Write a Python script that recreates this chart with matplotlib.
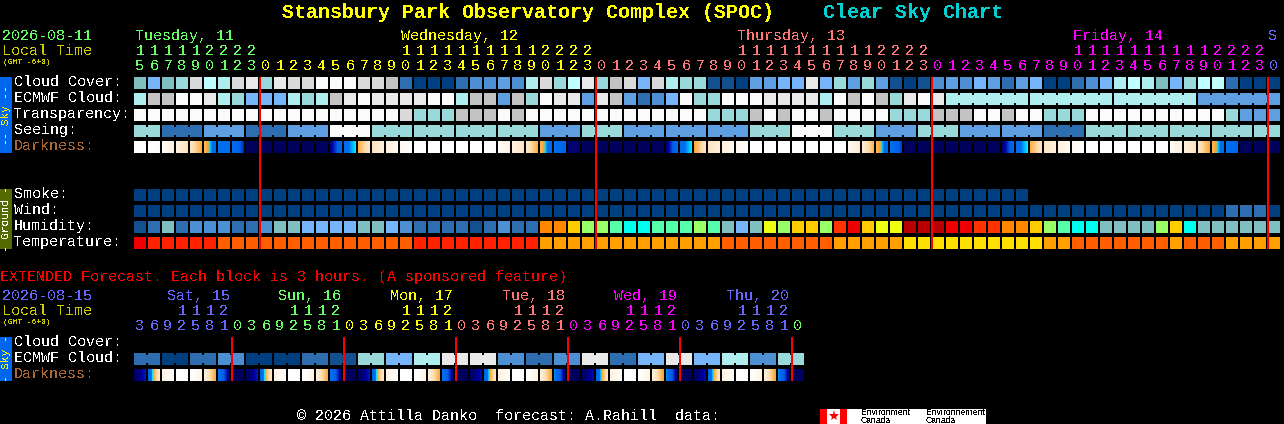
import numpy as np
import matplotlib
matplotlib.use("Agg")
import matplotlib.pyplot as plt
from matplotlib.colors import LinearSegmentedColormap

# block colours, clear (a) to overcast (n), then humidity/temperature colours
PALETTE = {
    "a": "#003f7f", "b": "#13508f", "c": "#2c6eaf", "d": "#4c8fd2", "e": "#5e9fe2",
    "f": "#77b5fa", "g": "#7fbfbf", "h": "#99d9d9", "i": "#aeeeee", "j": "#bfffff",
    "k": "#e9e9e9", "l": "#fbfbfb", "m": "#dadada", "n": "#c3c3c3",
    "O": "#ff8800", "Y": "#ffcc00", "G": "#99ff66", "M": "#55ffaa", "C": "#00ffee",
    "L": "#eeff11", "R": "#ff3300", "r": "#ee0000", "D": "#b80000",
    "T": "#ff2200", "U": "#ff5f00", "V": "#ffa000", "W": "#ffe000",
}

cloud_cover = "gfghmjimkhkmmlllmmnca" "aacddedimhjkhnmfmihhbbaeeffkfhe" "hebabdedfecefaacdfijigfhjjcaaa"
ecmwf_cloud = "innllkihfffihinklkkkk" "llinnenhlkkeknecdflhhlllkkkkiln" "lnhklk" + "i" * 18 + "e" * 6
transparency = ("l" * 19 + "mhhh" + "nnn" + "lnl" + "l" * 12 + "hhh" + "nlnlln" + "llll" + "hhh" + "nnn"
                + "ll" + "n" + "ll" + "hhh" + "l" * 10 + "h" + "eee")
seeing_levels = "hcecelhhhhehee" "ehlheheechhhhh"
seeing_spans = [2] + [3] * 26 + [2]
ecmwf_spans = [1] * 58 + [6, 6, 6, 6]
smoke = "a" * 64
wind = "a" * 78 + "ccca"
humidity = "bcgcdddccdggffffggfdc" "cccbcdccOOYGGMCCMMMGMgfgLGYYGR" "rYLLDDDrrRROOYGMCCggggGYCgggggg"
temperature = "r" + "T" * 5 + "U" * 14 + "T" * 9 + "V" * 13 + "U" * 8 + "V" * 5 + "W" * 10 + "VV" + "U" * 7 + "V" + "UUU" + "VVVV"

# darkness: value at the left and right edge of each block, 0 night to 1 daylight
darkness_start = [
    1, 1, .99, .90, .78, .60, .45, .40, .02, .02, .02, .02, .02, .02, .08, .42, .58, .78, .88, .95, 1,
    1, 1, 1, 1, 1, .98, .90, .80, .60, .45, .06, .02, .02, .02, .02, .02, .02, .06, .42, .56, .78, .88, .95,
    1, 1, 1, 1, 1, 1, 1, .95, .85, .60, .44, .02, .02, .02, .02, .02, .02, .02, .05, .42, .58, .80, .88, .95,
    1, 1, 1, 1, 1, 1, .97, .88, .78, .60, .44, .02, .02, .02,
]
darkness_end = [
    1, .98, .88, .76, .57, .38, .42, .18, .02, .02, .02, .02, .02, .02, .35, .50, .80, .88, .95, .99, 1,
    1, 1, 1, 1, .98, .90, .78, .58, .36, .30, .04, .02, .02, .02, .02, .02, .02, .38, .50, .78, .87, .95, .99,
    1, 1, 1, 1, 1, 1, 1, .85, .60, .38, .20, .02, .02, .02, .02, .02, .02, .02, .35, .50, .78, .88, .95, 1,
    1, 1, 1, 1, 1, 1, .88, .76, .56, .38, .32, .02, .02, .02,
]

main_hours = list(range(15, 24)) + list(range(24)) * 3 + [0]
ext_hours = [3, 6, 9, 12, 15, 18, 21] + [0, 3, 6, 9, 12, 15, 18, 21] * 5 + [0]

ext_ecmwf = "cacdaacbhfikkdcdkcfkfidh"
ext_dark_start = [
    .02, .32, .90, 1, 1, .88, .44, .02,
    .02, .32, .90, 1, 1, .88, .44, .02,
    .02, .32, .90, 1, 1, .88, .44, .02,
    .02, .30, .88, 1, 1, .88, .46, .02,
    .02, .30, .88, 1, 1, .88, .46, .02,
    .02, .30, .88, 1, 1, .88, .46, .02,
]
ext_dark_end = [
    .16, .82, .99, 1, .90, .56, .05, .02,
    .16, .82, .99, 1, .90, .56, .05, .02,
    .16, .82, .99, 1, .90, .56, .05, .02,
    .14, .80, .99, 1, .90, .54, .05, .02,
    .14, .80, .99, 1, .90, .54, .05, .02,
    .14, .80, .99, 1, .90, .54, .05, .02,
]

GREEN, YELLOW, SALMON, MAGENTA, BLUE = "#66ff66", "#ffff00", "#ff7777", "#ff00ff", "#6666ff"
OLIVE = "#cccc00"
main_colors = [GREEN] * 9 + [YELLOW] * 24 + [SALMON] * 24 + [MAGENTA] * 24 + [BLUE]
ext_colors = [BLUE] * 7 + [GREEN] * 8 + [YELLOW] * 8 + [SALMON] * 8 + [MAGENTA] * 8 + [BLUE] * 8 + [GREEN]

dark_cmap = LinearSegmentedColormap.from_list("darkness", [
    (0.0, "#000050"), (0.12, "#0000a0"), (0.25, "#0060e8"), (0.45, "#0070f0"),
    (0.5, "#00e8ff"), (0.53, "#ffa020"), (0.72, "#fdddb0"), (1.0, "#ffffff"),
])

plt.rcParams["font.family"] = ["Liberation Mono", "DejaVu Sans Mono"]
plt.rcParams["text.antialiased"] = False

X0, PITCH, SIZE = 134, 14, 12
RED = "#ff0000"

fig = plt.figure(figsize=(12.84, 4.24), dpi=100, facecolor="black")
ax = fig.add_axes([0, 0, 1, 1])
ax.set_facecolor("black")


def label(x, y, s, color="white", size=10.8, **kw):
    ax.text(x, y + 1, s, color=color, fontsize=size, va="center", ha=kw.pop("ha", "left"), **kw)


def draw_row(y, codes, spans=None):
    """One row of blocks. spans = lengths of linked runs, joined by a narrow neck."""
    x = X0 + PITCH * np.arange(len(codes))
    ax.bar(x, SIZE, SIZE, y, align="edge", color=[PALETTE[c] for c in codes], linewidth=0, antialiased=False)
    if spans:
        start = 0
        for n in spans:
            for i in range(start, start + n - 1):
                ax.bar(X0 + PITCH * i + SIZE, 8, 2, y + 2, align="edge", color=PALETTE[codes[i]],
                       linewidth=0, antialiased=False)
            start += n


def draw_darkness(y, starts, ends):
    for i, (s, e) in enumerate(zip(starts, ends)):
        x = X0 + PITCH * i
        ax.imshow(np.linspace(s, e, SIZE)[None, :], extent=(x, x + SIZE, y + SIZE, y), cmap=dark_cmap,
                  vmin=0, vmax=1, aspect="auto", interpolation="nearest")


def draw_hours(hours, colors, y_tens, y_units):
    for i, h in enumerate(hours):
        x = X0 + PITCH * i + 6
        if h >= 10:
            label(x, y_tens, str(h // 10), colors[i], ha="center")
        label(x, y_units, str(h % 10), colors[i], ha="center")


def midnight_lines(xs, top, bottom):
    ax.bar(np.array(xs) - 1, bottom - top, 2, top, align="edge", color=RED, linewidth=0,
           antialiased=False, zorder=5)


# titles
label(282, 11, "Stansbury Park Observatory Complex (SPOC)", "#ffff00", 14.4, fontweight="bold")
label(823, 11, "Clear Sky Chart", "#00d0d0", 14.4, fontweight="bold")

# main header
label(2, 35, "2026-08-11", GREEN)
label(2, 50, "Local Time", OLIVE)
label(3, 61, "(GMT -6+0)", OLIVE, 5.8)
label(135, 35, "Tuesday, 11", GREEN)
label(401, 35, "Wednesday, 12", YELLOW)
label(737, 35, "Thursday, 13", SALMON)
label(1073, 35, "Friday, 14", MAGENTA)
label(1268, 35, "S", BLUE)
draw_hours(main_hours, main_colors, 50, 65)

# row labels
for y, s, c in [(81, "Cloud Cover:", "white"), (97, "ECMWF Cloud:", "white"), (113, "Transparency:", "white"),
                (129, "Seeing:", "white"), (145, "Darkness:", "#aa6633"), (193, "Smoke:", "white"),
                (209, "Wind:", "white"), (225, "Humidity:", "white"), (241, "Temperature:", "white"),
                (341, "Cloud Cover:", "white"), (357, "ECMWF Cloud:", "white"), (373, "Darkness:", "#aa6633")]:
    label(14, y, s, c)

# side bars
ax.bar(0, 76, 12, 77, align="edge", color="#0066ee", linewidth=0)
ax.bar(0, 60, 12, 189, align="edge", color="#556b00", linewidth=0)
ax.bar(0, 44, 12, 337, align="edge", color="#0066ee", linewidth=0)
label(6, 114, "-- Sky --", "#ffff00", 8, rotation=90, ha="center")
label(6, 218, "- Ground -", "white", 8, rotation=90, ha="center")
label(6, 358, "- Sky -", "#ffff00", 8, rotation=90, ha="center")

# main rows
seeing = "".join(c * n for c, n in zip(seeing_levels, seeing_spans))
draw_row(77, cloud_cover)
draw_row(93, ecmwf_cloud, ecmwf_spans)
draw_row(109, transparency)
draw_row(125, seeing, seeing_spans)
draw_darkness(141, darkness_start, darkness_end)
draw_row(189, smoke)
draw_row(205, wind)
draw_row(221, humidity)
draw_row(237, temperature)
midnight_lines([260, 596, 932, 1268], 77, 249)

# extended forecast
label(0, 276, "EXTENDED Forecast. Each block is 3 hours. (A sponsored feature)", "#ff0000")
label(2, 295, "2026-08-15", BLUE)
label(2, 310, "Local Time", OLIVE)
label(3, 321, "(GMT -6+0)", OLIVE, 5.8)
for x, s, c in [(167, "Sat, 15", BLUE), (278, "Sun, 16", GREEN), (390, "Mon, 17", YELLOW),
                (502, "Tue, 18", SALMON), (614, "Wed, 19", MAGENTA), (726, "Thu, 20", BLUE)]:
    label(x, 295, s, c)
draw_hours(ext_hours, ext_colors, 310, 325)
draw_row(353, "".join(c * 2 for c in ext_ecmwf), [2] * 24)
draw_darkness(369, ext_dark_start, ext_dark_end)
midnight_lines([232, 344, 456, 568, 680, 792], 337, 381)

# footer
label(297, 415, "\u00a9 2026 Attilla Danko  forecast: A.Rahill  data:")
ax.bar(820, 15, 166, 409, align="edge", color="white", linewidth=0)
ax.bar([820, 840], 15, 7, 409, align="edge", color="#ff0000", linewidth=0)
ax.plot([833.5], [416], marker="*", ms=8, color="#ff0000", mew=0)
for x, s in [(861, "Environment"), (926, "Environnement")]:
    ax.text(x, 412.5, s, color="black", fontsize=6.2, family="Liberation Sans", va="center")
    ax.text(x, 420.5, "Canada", color="black", fontsize=6.2, family="Liberation Sans", va="center")

ax.set_xlim(0, 1284)
ax.set_ylim(424, 0)
ax.axis("off")
fig.savefig("out.png", dpi=100, facecolor="black")
